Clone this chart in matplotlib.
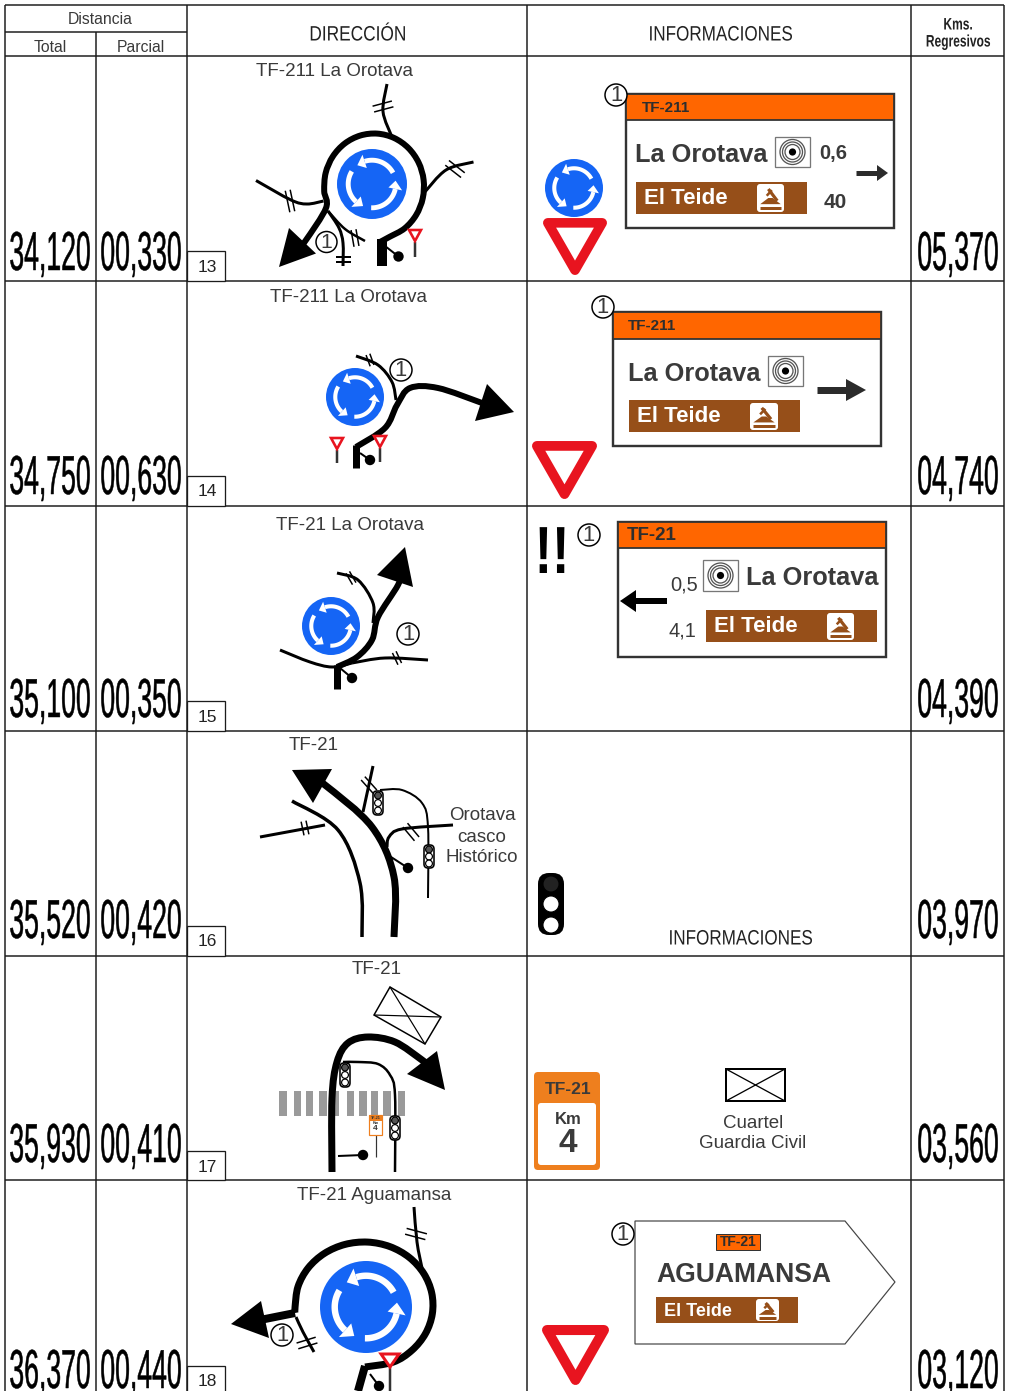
import numpy as np
import matplotlib
matplotlib.use('Agg')
import matplotlib.pyplot as plt
import matplotlib.patheffects as pe
from matplotlib.patches import Circle, Polygon, Rectangle, PathPatch, FancyBboxPatch
from matplotlib.path import Path
from matplotlib.transforms import Affine2D

plt.rcParams['font.family'] = ['Liberation Sans', 'DejaVu Sans']

total = ['34,120', '34,750', '35,100', '35,520', '35,930', '36,370']
parcial = ['00,330', '00,630', '00,350', '00,420', '00,410', '00,440']
regresivos = ['05,370', '04,740', '04,390', '03,970', '03,560', '03,120']
hitos = ['13', '14', '15', '16', '17', '18']
direcciones = ['TF-211 La Orotava', 'TF-211 La Orotava', 'TF-21 La Orotava',
               'TF-21', 'TF-21', 'TF-21 Aguamansa']

W, H = 1009, 1391
ROW_Y = [56, 281, 506, 731, 956, 1180]
COL_X = [5, 96, 187, 527, 911, 1004]
NUM_BASE = [270, 494, 717, 938, 1162, 1388]
BOX_TOP = [251, 476, 701, 926, 1151, 1366]
HITO_Y = [266, 490, 715, 940, 1165, 1380]
DIR_POS = [(334, 69), (349, 295), (350, 524), (314, 744), (377, 967), (374, 1193)]

LINE = '#1c1c1c'
INK = '#3a3a3a'
RED = '#e8141f'
BLUE = '#1565f5'
ORANGE = '#ff6600'
BROWN = '#964f19'

fig = plt.figure(figsize=(W / 100, H / 100), dpi=100)
ax = fig.add_axes([0, 0, 1, 1])
ax.set_xlim(0, W)
ax.set_ylim(H, 0)
ax.axis('off')


class Squeeze(pe.AbstractPathEffect):
    # text stays a Text artist, only narrower on the page
    def __init__(self, sx, x0, stroke=0):
        super().__init__()
        self.sx = sx
        self.x0 = x0
        self.stroke = stroke

    def draw_path(self, renderer, gc, tpath, affine, rgbFace=None):
        tr = affine + Affine2D().translate(-self.x0, 0).scale(self.sx, 1).translate(self.x0, 0)
        if self.stroke:
            gc.set_linewidth(self.stroke)
            gc.set_foreground(rgbFace)
        renderer.draw_path(gc, tpath, tr, rgbFace)


def px(v):
    return v * 0.72


def txt(x, y, s, size, color=INK, weight='normal', ha='center', va='center', sx=None, family=None, stroke=0):
    if va == 'center':
        y = y + 2
    t = ax.text(x, y, s, fontsize=size, color=color, fontweight=weight, ha=ha, va=va, zorder=8)
    if family:
        t.set_fontfamily(family)
    if sx:
        t.set_path_effects([Squeeze(sx, x, stroke)])
    return t


def line(x, y, lw=1.5, color=LINE, z=3, cap='butt'):
    ax.plot(x, y, color=color, lw=px(lw), solid_capstyle=cap, zorder=z)


def oval(cx, cy, rx, ry, a0, a1, n=14):
    t = np.radians(np.linspace(a0, a1, n))
    return list(zip(cx + rx * np.cos(t), cy - ry * np.sin(t)))


def curve(pts, lw, color='black', z=4):
    # catmull-rom through the points
    p = np.array(pts, float)
    verts = [p[0]]
    codes = [Path.MOVETO]
    for i in range(len(p) - 1):
        a = p[max(i - 1, 0)]
        b = p[i]
        c = p[i + 1]
        d = p[min(i + 2, len(p) - 1)]
        verts += [b + (c - a) / 6, c - (d - b) / 6, c]
        codes += [Path.CURVE4] * 3
    ax.add_patch(PathPatch(Path(verts, codes), fill=False, lw=px(lw), ec=color,
                           capstyle='butt', joinstyle='round', zorder=z))


def head(a, b, c):
    ax.add_patch(Polygon([a, b, c], closed=True, fc='black', ec='none', zorder=5))


def cross(x, y, ang, ln=22, gap=6, lw=1.5):
    # two parallel marks over a road
    t = np.radians(ang)
    dx, dy = np.cos(t), np.sin(t)
    nx, ny = -dy, dx
    for s in (-gap / 2, gap / 2):
        line([x + nx * s - dx * ln / 2, x + nx * s + dx * ln / 2],
             [y + ny * s - dy * ln / 2, y + ny * s + dy * ln / 2], lw=lw, color='black', z=5)


def one(x, y, r=11):
    ax.add_patch(Circle((x, y), r, fc='white', ec='black', lw=px(1.5), zorder=7))
    txt(x, y - 1.5, '1', r * 1.45, color=INK)


def rotonda(cx, cy, R):
    ax.add_patch(Circle((cx, cy), R, fc=BLUE, ec='none', zorder=3))
    r = 0.68 * R
    for hd in (108, 228, 348):
        th = np.radians(np.linspace(hd - 80, hd, 30))
        ax.plot(cx + r * np.cos(th), cy - r * np.sin(th), color='white',
                lw=px(0.14 * R), solid_capstyle='butt', zorder=4)
        t0 = np.radians(hd)
        t1 = np.radians(hd + 20)
        rad = [r - 0.2 * R, r + 0.2 * R]
        ax.add_patch(Polygon([(cx + rad[0] * np.cos(t0), cy - rad[0] * np.sin(t0)),
                              (cx + rad[1] * np.cos(t0), cy - rad[1] * np.sin(t0)),
                              (cx + r * np.cos(t1), cy - r * np.sin(t1))],
                             fc='white', ec='none', zorder=4))


def mini_ceda(x, y, pole):
    line([x, x], [y + 8, pole], lw=2.5, color='#333333', z=5)
    ax.add_patch(Polygon([(x - 6, y - 4), (x + 6, y - 4), (x, y + 7)], fc='white', ec=RED,
                         lw=px(2.6), joinstyle='miter', zorder=6))


def big_ceda(x0, x1, y0, y1):
    xm = (x0 + x1) / 2
    w = x1 - x0
    ins = w * 0.075
    ax.add_patch(Polygon([(x0 + ins, y0 + ins * 0.8), (x1 - ins, y0 + ins * 0.8), (xm, y1 - ins)],
                         fc='white', ec=RED, lw=px(w * 0.15), joinstyle='round', zorder=4))


def semaforo(x, y0, y1, r=3.4):
    ax.add_patch(FancyBboxPatch((x - 1, y0 + 4), 2, y1 - y0 - 8, boxstyle='round,pad=4',
                                fc='white', ec='black', lw=px(1.6), zorder=6))
    ys = np.linspace(y0 + 4.5, y1 - 4.5, 3)
    for i, y in enumerate(ys):
        ax.add_patch(Circle((x, y), r, fc='white' if i else '#555555', ec='black', lw=px(1.2), zorder=7))


def farola(x0, y0, x1, y1, lw=2):
    line([x0, x1], [y0, y1], lw=lw, color='black', z=4)
    ax.add_patch(Circle((x1, y1), 5.2, fc='black', ec='none', zorder=5))


def diana(x0, y0, x1, y1):
    ax.add_patch(Rectangle((x0, y0), x1 - x0, y1 - y0, fc='white', ec='#777777', lw=px(1.3), zorder=6))
    cx, cy = (x0 + x1) / 2, (y0 + y1) / 2
    for r in (12.5, 10, 7.5):
        ax.add_patch(Circle((cx, cy), r, fc='none', ec='#555555', lw=px(1.3), zorder=7))
    ax.add_patch(Circle((cx, cy), 3.6, fc='black', ec='none', zorder=7))


def teide(x0, y0, x1, y1, s=16):
    ax.add_patch(Rectangle((x0, y0), x1 - x0, y1 - y0, fc=BROWN, ec='none', zorder=5))
    txt(x0 + 8, (y0 + y1) / 2 - 1, 'El Teide', s, color='white', weight='bold', ha='left')


def icono(x0, y0, x1, y1):
    ax.add_patch(FancyBboxPatch((x0 + 3, y0 + 3), x1 - x0 - 6, y1 - y0 - 6, boxstyle='round,pad=3',
                                fc='white', ec='none', zorder=6))
    w = x1 - x0
    h = y1 - y0
    X = lambda f: x0 + f * w
    Y = lambda f: y0 + f * h
    line([X(.12), X(.88)], [Y(.85), Y(.85)], lw=3, color=BROWN, z=7)
    ax.add_patch(Polygon([(X(.12), Y(.72)), (X(.42), Y(.5)), (X(.58), Y(.5)), (X(.88), Y(.72))],
                         fc=BROWN, ec='none', zorder=7))
    line([X(.42), X(.75)], [Y(.18), Y(.6)], lw=3.2, color=BROWN, z=7)
    line([X(.36), X(.55)], [Y(.42), Y(.22)], lw=2.5, color=BROWN, z=7)


def panel(x0, y0, x1, y1, yh, code, cx):
    ax.add_patch(Rectangle((x0, y0), x1 - x0, y1 - y0, fc='white', ec='#333333', lw=px(2.4), zorder=3))
    ax.add_patch(Rectangle((x0, y0), x1 - x0, yh - y0, fc=ORANGE, ec='#333333', lw=px(1.8), zorder=4))
    txt(cx, (y0 + yh) / 2 - 1, code, 11 if code == 'TF-211' else 13.5, color='#2e2e2e', weight='bold', ha='left')


def flecha(x0, x1, y, hw=10, lw=5, hl=14, color='#2b2b2b'):
    d = 1 if x1 > x0 else -1
    line([x0, x1 - d * hl], [y, y], lw=lw, color=color, z=6)
    ax.add_patch(Polygon([(x1, y), (x1 - d * hl, y - hw), (x1 - d * hl, y + hw)], fc=color, ec='none', zorder=6))


# table
for x in (COL_X[0], COL_X[2], COL_X[3], COL_X[4], COL_X[5]):
    line([x, x], [5, H], z=2)
line([COL_X[1], COL_X[1]], [32, H], z=2)
for y in [5] + ROW_Y:
    line([COL_X[0], COL_X[5]], [y, y], z=2)
line([COL_X[0], COL_X[2]], [32, 32], z=2)

txt(100, 18, 'Distancia', 11.3)
txt(50, 46, 'Total', 11.3)
txt(141, 46, 'Parcial', 11.3)
txt(358, 33, 'DIRECCIÓN', 15, color='#222222', sx=0.83)
txt(721, 33, 'INFORMACIONES', 15, color='#222222', sx=0.82)
txt(958, 23, 'Kms.', 12, color='#222222', weight='bold', sx=0.72)
txt(958, 40, 'Regresivos', 12, color='#222222', weight='bold', sx=0.72)

for i in range(6):
    for x, s in ((50, total[i]), (141, parcial[i]), (958, regresivos[i])):
        txt(x, NUM_BASE[i], s, 39.5, color='black', va='baseline', sx=0.485,
            family=['Liberation Sans Narrow', 'Liberation Sans'], stroke=0.35)
    ax.add_patch(Rectangle((COL_X[2], BOX_TOP[i]), 38, ROW_Y[i + 1] - BOX_TOP[i] if i < 5 else 40,
                           fc='white', ec=LINE, lw=px(1.3), zorder=3))
    txt(207, HITO_Y[i], hitos[i], 12.5, color='#222222')
    txt(DIR_POS[i][0], DIR_POS[i][1], direcciones[i], 13.5)

# row 13 sketch
rotonda(372, 184, 35)
curve([(380, 242)] + oval(374, 186.5, 50, 53, -72, 185) + [(326, 208), (306, 240), (298, 249)], 6)
curve([(328, 211), (339, 228), (343, 243), (343, 266)], 3)
curve([(328, 211), (345, 229), (365, 241)], 2.5)
curve([(256, 180.5), (291, 200), (307, 204), (323.5, 201)], 3)
curve([(387, 84), (383, 111.5), (392, 137)], 3)
curve([(473.5, 162), (446, 170), (424, 193)], 3)
line([382, 382], [239, 266], lw=10, color='black', z=4)
head((279, 267), (289, 228), (316, 253.5))
cross(343, 259, 0, ln=15, gap=5, lw=2)
cross(355, 238, 80, ln=17, gap=5)
cross(290, 201, 78, ln=22, gap=5)
cross(383, 106.5, -15, ln=20, gap=6)
cross(455, 169, 38, ln=20, gap=6)
farola(385, 246, 398.5, 256.5)
mini_ceda(415, 234, 257)
one(326.5, 242, 10.5)

# row 14 sketch
rotonda(355, 397, 29)
curve([(356, 447), (385, 428), (397, 405), (410, 388), (438, 388), (482, 403), (495, 408)], 6)
curve([(356, 356), (378, 365), (392, 382), (396, 400)], 3)
line([356, 356], [445, 468], lw=7, color='black', z=4)
head((514, 412), (487, 384), (475, 421))
cross(370, 360, 70, ln=12, gap=4)
farola(360, 453, 370, 460)
mini_ceda(337, 442, 463)
mini_ceda(380, 440, 462)
one(401, 370, 11)

# row 15 sketch
rotonda(331, 626, 29)
curve([(337, 667), (357, 657), (372, 640), (378, 617), (398, 585), (402, 570)], 6)
curve([(280, 650), (310, 662), (332, 667), (352, 663)], 3)
curve([(352, 663), (385, 658), (428, 660)], 3)
curve([(337, 573), (358, 580), (373, 603), (373, 623)], 3)
line([337, 337], [665, 689], lw=7, color='black', z=4)
head((405, 547), (377, 575), (413, 587))
cross(397, 658, 65, ln=13, gap=4)
cross(351, 578, 60, ln=13, gap=4)
farola(340, 668, 352, 678)
one(408, 634, 11)

# row 16 sketch
curve([(394, 937), (394, 877), (372, 827), (325, 785), (312, 778)], 7)
curve([(362, 937), (360, 883), (338, 830), (292, 801)], 3.5)
line([260, 325], [837, 825], lw=3, color='black')
line([363, 373], [812, 766], lw=3, color='black')
curve([(428, 898), (428, 827), (422, 803), (402, 790), (380, 790)], 2)
curve([(387, 847), (389, 837), (402, 829), (453, 825)], 3)
head((292, 770), (332, 769), (313, 803))
cross(305, 828, 78, ln=14, gap=5)
cross(369, 785, 48, ln=18, gap=5)
cross(411, 832, 50, ln=18, gap=6)
semaforo(378, 791, 815)
semaforo(429, 845, 868)
farola(388, 855, 408, 868)
txt(482, 814, 'Orotava', 13.5)
txt(482, 835, 'casco', 13.5)
txt(482, 856, 'Histórico', 13.5)

# row 17 sketch
for x0, x1 in ((279, 287), (294, 301), (306, 313), (319, 327), (332, 339),
               (347, 354), (359, 367), (371, 378), (383, 391), (398, 405)):
    ax.add_patch(Rectangle((x0, 1091), x1 - x0, 25, fc='#9a9a9a', ec='none', zorder=2))
curve([(332, 1172), (332, 1098), (337, 1062), (348, 1043), (368, 1037), (395, 1042), (422, 1060), (432, 1068)], 7)
curve([(395, 1172), (395, 1095), (390, 1075), (378, 1064), (358, 1062), (343, 1062)], 2.5)
head((445, 1090), (437, 1051), (407, 1074))
ax.add_patch(Polygon([(390, 987), (441, 1017), (425, 1044), (374, 1015)], fc='white', ec='black', lw=px(1.5), zorder=3))
line([390, 425], [987, 1044], lw=1.2, color='black')
line([374, 441], [1015, 1017], lw=1.2, color='black')
semaforo(345, 1063, 1087)
semaforo(395, 1116, 1140)
farola(338, 1156, 363, 1155)
line([376, 376], [1135, 1157], lw=1.2, color='#333333')
ax.add_patch(Rectangle((369, 1115), 13, 20, fc='white', ec='#ee7f1e', lw=px(1.2), zorder=5))
ax.add_patch(Rectangle((369, 1115), 13, 6, fc='#ee7f1e', ec='none', zorder=6))
txt(375.5, 1116, 'TF-21', 2.6, color='#333333', weight='bold')
txt(375.5, 1121.5, 'Km', 2.8, color='#333333', weight='bold')
txt(375.5, 1127, '4', 6, color='#333333', weight='bold')

# row 18 sketch
rotonda(366, 1307, 46)
curve([(365, 1367)] + oval(364, 1305, 69, 63, -65, 182) + [(295, 1313)], 7)
curve([(296, 1317), (303, 1332), (314, 1352)], 3)
curve([(414, 1207), (417, 1242), (422, 1268)], 3)
line([295, 255], [1313, 1321], lw=8, color='black', z=4)
line([365, 358], [1366, 1391], lw=8, color='black', z=4)
head((231, 1324), (261, 1301), (269, 1338))
cross(307, 1343, -17, ln=20, gap=6)
cross(416, 1234, 15, ln=21, gap=6)
farola(370, 1374, 379, 1386)
line([390, 390], [1362, 1391], lw=2.5, color='#333333', z=5)
ax.add_patch(Polygon([(381, 1354), (399, 1354), (390, 1367)], fc='white', ec=RED, lw=px(3), joinstyle='miter', zorder=6))
one(282, 1335, 11)

# row 13 signs
rotonda(574, 188, 29)
big_ceda(543, 607, 219, 275)
panel(626, 94, 894, 228, 120, 'TF-211', 642)
one(616, 95, 11)
txt(635, 153, 'La Orotava', 18.3, weight='bold', ha='left')
diana(775, 137, 810, 167)
txt(833, 151, '0,6', 14.5, weight='bold')
flecha(856, 888, 173, hw=8, lw=5, hl=11)
teide(636, 182, 807, 214)
icono(757, 184, 784, 212)
txt(835, 201, '40', 15, weight='bold')

# row 14 signs
big_ceda(532, 597, 442, 499)
panel(613, 312, 881, 446, 339, 'TF-211', 628)
one(603, 307, 11)
txt(628, 372, 'La Orotava', 18.3, weight='bold', ha='left')
diana(768, 356, 803, 386)
flecha(817, 866, 390, hw=11, lw=7, hl=20)
teide(629, 400, 800, 432)
icono(750, 403, 778, 430)

# row 15 signs
txt(552, 554, '!!', 48, color='black', weight='bold', sx=0.78)
one(589, 535, 11)
panel(618, 522, 886, 657, 548, 'TF-21', 627)
txt(684, 583, '0,5', 14.5)
diana(703, 560, 738, 591)
txt(746, 576, 'La Orotava', 18.3, weight='bold', ha='left')
flecha(667, 620, 601, hw=11, lw=6, hl=16, color='black')
txt(682, 629, '4,1', 14.5)
teide(706, 610, 877, 642)
icono(827, 613, 854, 640)

# row 16 signs
ax.add_patch(FancyBboxPatch((549, 884), 4, 40, boxstyle='round,pad=11', fc='black', ec='none', zorder=4))
for y, c in ((884, '#222222'), (904, 'white'), (925, 'white')):
    ax.add_patch(Circle((551, y), 8, fc=c, ec='black', lw=px(1), zorder=5))
txt(741, 937, 'INFORMACIONES', 15, color='#222222', sx=0.82)

# row 17 signs
ax.add_patch(FancyBboxPatch((538, 1076), 58, 90, boxstyle='round,pad=4', fc='#ee7f1e', ec='none', zorder=3))
ax.add_patch(FancyBboxPatch((541, 1106), 52, 56, boxstyle='round,pad=3', fc='white', ec='none', zorder=4))
txt(568, 1088, 'TF-21', 12.5, weight='bold')
txt(568, 1118, 'Km', 12, weight='bold')
txt(568, 1142, '4', 24, weight='bold')
ax.add_patch(Rectangle((726, 1069), 59, 32, fc='white', ec='black', lw=px(2), zorder=3))
line([726, 785], [1069, 1101], lw=1.3, color='black', z=4)
line([726, 785], [1101, 1069], lw=1.3, color='black', z=4)
txt(753, 1121, 'Cuartel', 13.5)
txt(753, 1142, 'Guardia Civil', 13.5)

# row 18 signs
big_ceda(542, 609, 1326, 1385)
ax.add_patch(Polygon([(635, 1221), (845, 1221), (895, 1282), (845, 1344), (635, 1344)],
                     fc='white', ec='#444444', lw=px(1.2), zorder=3))
one(623, 1234, 11)
ax.add_patch(Rectangle((716, 1234), 44, 16, fc=ORANGE, ec='#333333', lw=px(1), zorder=4))
txt(738, 1240, 'TF-21', 10, color='#2e2e2e', weight='bold')
txt(656, 1273, 'AGUAMANSA', 19.1, weight='bold', ha='left')
teide(656, 1297, 798, 1323, s=13)
icono(756, 1299, 779, 1321)

fig.savefig('out.png', dpi=100)
